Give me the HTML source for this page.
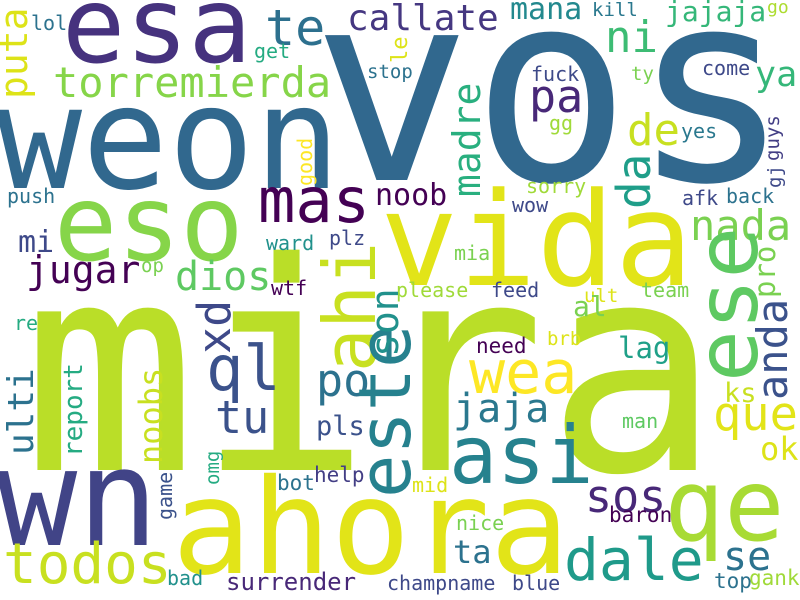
<!DOCTYPE html>
<html><head><meta charset="utf-8"><style>
html,body{margin:0;padding:0;background:#fff;}
svg{display:block;}
text{font-family:"DejaVu Sans Mono","Liberation Mono",monospace;}
</style></head><body>
<svg width="800" height="600" viewBox="0 0 800 600">
<rect width="800" height="600" fill="#fff"/>
<text x="312" y="180" font-size="265" fill="#31688e">vos</text>
<text x="22" y="470" font-size="290" fill="#bade28">mira</text>
<text x="-4" y="188" font-size="143" fill="#31688e">weon</text>
<text x="62" y="62" font-size="105" fill="#46327e">esa</text>
<text x="54" y="260" font-size="105" fill="#86d549">eso</text>
<text x="380" y="285" font-size="130" fill="#e2e418">vida</text>
<text x="-4" y="545" font-size="135" fill="#414487">wn</text>
<text x="172" y="573" font-size="132" fill="#e2e418">ahora</text>
<text x="664" y="540" font-size="100" fill="#a8db34">qe</text>
<text x="265" y="45" font-size="50" fill="#2d708e">te</text>
<text x="347" y="30" font-size="36" fill="#453781">callate</text>
<text x="510" y="19" font-size="30" fill="#23898e">mana</text>
<text x="592" y="16" font-size="19" fill="#2a788e">kill</text>
<text x="665" y="21" font-size="28" fill="#35b779">jajaja</text>
<text x="767" y="13" font-size="18" fill="#addc30">go</text>
<text x="605" y="52" font-size="44" fill="#3dbc74">ni</text>
<text x="755" y="86" font-size="35" fill="#35b779">ya</text>
<text x="529" y="112" font-size="45" fill="#482878">pa</text>
<text x="531" y="81" font-size="20" fill="#3e4a89">fuck</text>
<text x="631" y="80" font-size="19" fill="#7ad151">ty</text>
<text x="702" y="75" font-size="20" fill="#3e4989">come</text>
<text x="627" y="145" font-size="44" fill="#c8e020">de</text>
<text x="681" y="138" font-size="20" fill="#2a788e">yes</text>
<text x="549" y="130" font-size="20" fill="#a0da39">gg</text>
<text x="526" y="193" font-size="20" fill="#a0da39">sorry</text>
<text x="375" y="205" font-size="30" fill="#440154">noob</text>
<text x="512" y="212" font-size="20" fill="#3e4989">wow</text>
<text x="682" y="205" font-size="20" fill="#3e4989">afk</text>
<text x="726" y="203" font-size="20" fill="#2c728e">back</text>
<text x="690" y="240" font-size="42" fill="#7ad151">nada</text>
<text x="454" y="260" font-size="20" fill="#7ad151">mia</text>
<text x="396" y="297" font-size="20" fill="#a0da39">please</text>
<text x="491" y="297" font-size="20" fill="#3e4989">feed</text>
<text x="584" y="302" font-size="19" fill="#dde318">ult</text>
<text x="573" y="316" font-size="28" fill="#7ad151">al</text>
<text x="641" y="297" font-size="20" fill="#7ad151">team</text>
<text x="53" y="97" font-size="42" fill="#86d549">torremierda</text>
<text x="31" y="30" font-size="20" fill="#2c728e">lol</text>
<text x="254" y="58" font-size="20" fill="#25ab82">get</text>
<text x="367" y="78" font-size="19" fill="#2c728e">stop</text>
<text x="258" y="222" font-size="62" fill="#440154">mas</text>
<text x="7" y="203" font-size="20" fill="#2c728e">push</text>
<text x="18" y="252" font-size="30" fill="#3e4989">mi</text>
<text x="266" y="250" font-size="20" fill="#21918c">ward</text>
<text x="329" y="245" font-size="20" fill="#3e4989">plz</text>
<text x="26" y="283" font-size="38" fill="#440154">jugar</text>
<text x="141" y="272" font-size="19" fill="#7ad151">op</text>
<text x="175" y="290" font-size="40" fill="#5ec962">dios</text>
<text x="271" y="295" font-size="20" fill="#440154">wtf</text>
<text x="206" y="390" font-size="62" fill="#3b528b">ql</text>
<text x="215" y="433" font-size="45" fill="#3b528b">tu</text>
<text x="316" y="396" font-size="45" fill="#2c728e">po</text>
<text x="316" y="435" font-size="27" fill="#3b528b">pls</text>
<text x="14" y="330" font-size="20" fill="#25ab82">re</text>
<text x="314" y="482" font-size="21" fill="#433e85">help</text>
<text x="277" y="490" font-size="21" fill="#2c728e">bot</text>
<text x="3" y="583" font-size="56" fill="#c8e020">todos</text>
<text x="167" y="585" font-size="20" fill="#21918c">bad</text>
<text x="226" y="590" font-size="24" fill="#482878">surrender</text>
<text x="387" y="590" font-size="20" fill="#3e4989">champname</text>
<text x="512" y="590" font-size="20" fill="#3e4989">blue</text>
<text x="449" y="483" font-size="80" fill="#26828e">asi</text>
<text x="453" y="422" font-size="40" fill="#2a788e">jaja</text>
<text x="469" y="393" font-size="60" fill="#fde725">wea</text>
<text x="476" y="353" font-size="21" fill="#440154">need</text>
<text x="547" y="345" font-size="19" fill="#dde318">brb</text>
<text x="618" y="358" font-size="29" fill="#1fa088">lag</text>
<text x="724" y="402" font-size="27" fill="#c8e020">ks</text>
<text x="713" y="430" font-size="47" fill="#e2e418">que</text>
<text x="622" y="428" font-size="20" fill="#5ec962">man</text>
<text x="760" y="460" font-size="32" fill="#dde318">ok</text>
<text x="585" y="512" font-size="45" fill="#482878">sos</text>
<text x="412" y="492" font-size="20" fill="#dde318">mid</text>
<text x="609" y="522" font-size="21" fill="#440154">baron</text>
<text x="456" y="530" font-size="20" fill="#7ad151">nice</text>
<text x="453" y="563" font-size="32" fill="#2c728e">ta</text>
<text x="564" y="580" font-size="58" fill="#1f9a8a">dale</text>
<text x="723" y="570" font-size="40" fill="#2c728e">se</text>
<text x="714" y="588" font-size="21" fill="#2c728e">top</text>
<text x="749" y="585" font-size="21" fill="#a0da39">gank</text>
<text transform="translate(27,99) rotate(-90)" font-size="38" fill="#dde318">puta</text>
<text transform="translate(480,197) rotate(-90)" font-size="38" fill="#29af7f">madre</text>
<text transform="translate(650,209) rotate(-90)" font-size="46" fill="#1f9e89">da</text>
<text transform="translate(779,161) rotate(-90)" font-size="19" fill="#433e85">guys</text>
<text transform="translate(781,188) rotate(-90)" font-size="19" fill="#3e4989">gj</text>
<text transform="translate(757,382) rotate(-90)" font-size="86" fill="#5ec962">ese</text>
<text transform="translate(775,298) rotate(-90)" font-size="29" fill="#7ad151">pro</text>
<text transform="translate(407,63) rotate(-90)" font-size="22" fill="#dde318">le</text>
<text transform="translate(312,186) rotate(-90)" font-size="20" fill="#fde725">good</text>
<text transform="translate(375,372) rotate(-90)" font-size="72" fill="#c8e020">ahi</text>
<text transform="translate(410,498) rotate(-90)" font-size="72" fill="#26818e">este</text>
<text transform="translate(398,357) rotate(-90)" font-size="38" fill="#21918c">son</text>
<text transform="translate(230,354) rotate(-90)" font-size="45" fill="#3e4989">xd</text>
<text transform="translate(33,455) rotate(-90)" font-size="36" fill="#2c728e">ulti</text>
<text transform="translate(82,457) rotate(-90)" font-size="26" fill="#25ab82">report</text>
<text transform="translate(162,464) rotate(-90)" font-size="32" fill="#c8e020">noobs</text>
<text transform="translate(219,485) rotate(-90)" font-size="19" fill="#25ab82">omg</text>
<text transform="translate(172,520) rotate(-90)" font-size="20" fill="#3b528b">game</text>
<text transform="translate(787,400) rotate(-90)" font-size="42" fill="#3b528b">anda</text>
</svg>
</body></html>
